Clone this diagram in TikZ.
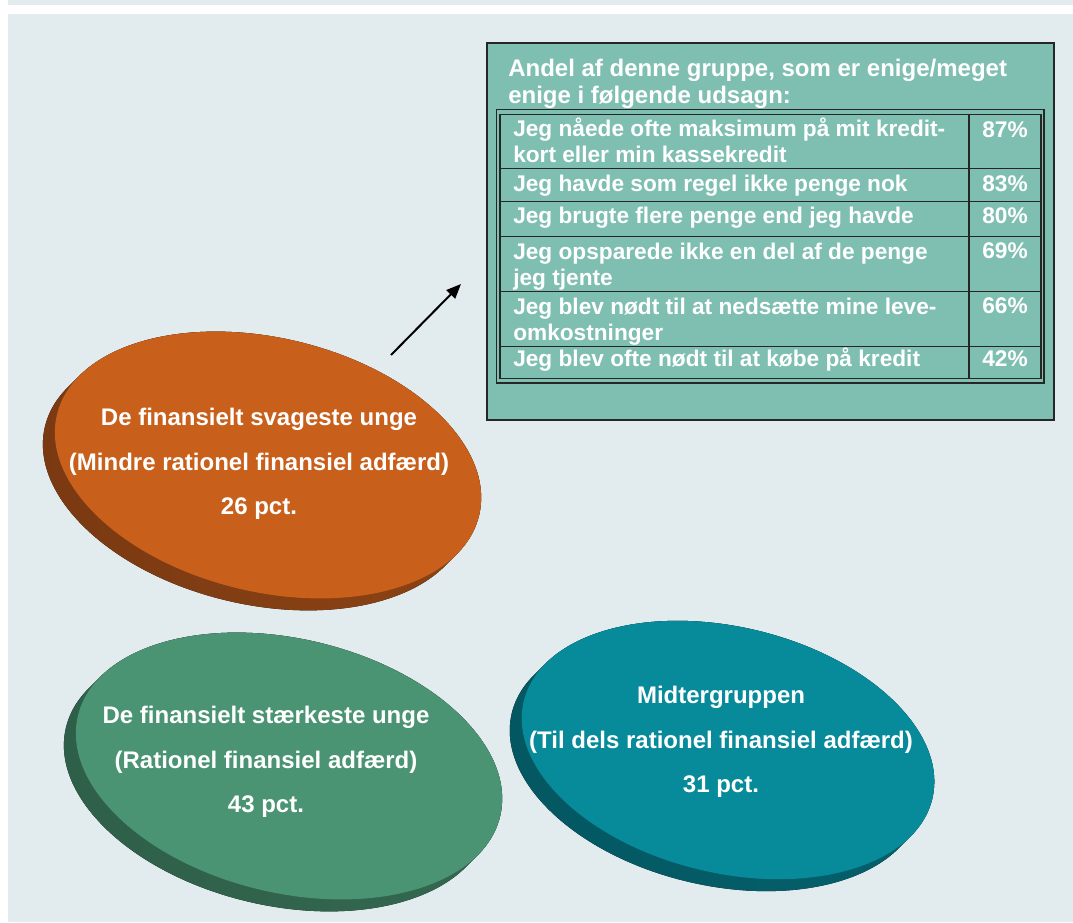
\documentclass[tikz,border=0pt]{standalone}
\usepackage{fontspec}
\setmainfont{Liberation Sans}
\usetikzlibrary{arrows.meta, positioning, calc}
\definecolor{panelbg}{HTML}{E2EBEE}
\definecolor{boxteal}{HTML}{7FBFB2}
\definecolor{boxline}{HTML}{262626}
\definecolor{discorange}{HTML}{C8601C}
\definecolor{discorangedk}{HTML}{7A3912}
\definecolor{discgreen}{HTML}{4A9473}
\definecolor{discgreendk}{HTML}{2E5F49}
\definecolor{discteal}{HTML}{078A9A}
\definecolor{disctealdk}{HTML}{035761}

\begin{document}
\begin{tikzpicture}[
  x=0.75pt, y=-0.75pt,
  >={Triangle[length=11pt, width=9pt]},
  disctext/.style={text=white, inner sep=0pt, align=center,
    font=\fontsize{18}{33.4}\selectfont\bfseries},
  rowtext/.style={text=white, inner sep=0pt, align=left, anchor=base west,
    font=\fontsize{17}{19.5}\selectfont\bfseries},
  pcttext/.style={text=white, inner sep=0pt, anchor=base east,
    font=\fontsize{17}{19.5}\selectfont\bfseries},
  gridline/.style={boxline, line width=1.1pt},
]
\useasboundingbox (0,0) rectangle (1073,922);

% Background
\fill[panelbg] (8,0) rectangle (1073,5);
\fill[panelbg] (8,14) rectangle (1073,922);

% ========================================
% Discs (side swept to the lower left, then the top face)
% ========================================
% Orange disc (weakest)
\begin{scope}[shift={(268,465)}, rotate=-13.4]
  \fill[left color=discorangedk, right color=discorange!70!black]
    \foreach \k in {0,...,12} {(-0.74*\k,1.2*\k) ellipse [x radius=217, y radius=127]};
  \fill[discorange] (0,0) ellipse [x radius=217, y radius=127];
\end{scope}
\node[disctext] (weak) at (259,464)
  {De finansielt svageste unge\\(Mindre rationel finansiel adfærd)\\26 pct.};

% Green disc (strongest)
\begin{scope}[shift={(289,766)}, rotate=-13.4]
  \fill[left color=discgreendk, right color=discgreen!70!black]
    \foreach \k in {0,...,12} {(-0.74*\k,1.2*\k) ellipse [x radius=217, y radius=127]};
  \fill[discgreen] (0,0) ellipse [x radius=217, y radius=127];
\end{scope}
\node[disctext] (strong) at (266,762)
  {De finansielt stærkeste unge\\(Rationel finansiel adfærd)\\43 pct.};

% Teal disc (middle group)
\begin{scope}[shift={(728,750)}, rotate=-13.4]
  \fill[left color=disctealdk, right color=discteal!70!black]
    \foreach \k in {0,...,12} {(-0.74*\k,1.2*\k) ellipse [x radius=210, y radius=123]};
  \fill[discteal] (0,0) ellipse [x radius=210, y radius=123];
\end{scope}
\node[disctext] (middle) at (721,742)
  {Midtergruppen\\(Til dels rationel finansiel adfærd)\\31 pct.};

% ========================================
% Statement table
% ========================================
\node[draw=boxline, line width=1.5pt, fill=boxteal, inner sep=0pt,
  minimum width=567*0.75pt, minimum height=377*0.75pt] (tbl) at (770.5,231.5) {};

% (multi-line nodes sit on the baseline of their last line)
\node[rowtext, font=\fontsize{18}{20.25}\selectfont\bfseries] (heading) at (508,103.3)
  {Andel af denne gruppe, som er enige/meget\\enige i følgende udsagn:};

% Double frame and grid
\draw[gridline] (496.7,109.5) rectangle (1044,383);
\draw[gridline] (500,114.5) rectangle (1041,378.5);
\draw[gridline] (969,114.5) -- (969,378.5);
\foreach \y in {168.5,201.7,236.7,291.7,346.7}
  \draw[gridline] (500,\y) -- (1041,\y);

% Rows
\node[rowtext] (row1) at (513,162.7) {Jeg nåede ofte maksimum på mit kredit-\\kort eller min kassekredit};
\node[rowtext] (row2) at (513,191) {Jeg havde som regel ikke penge nok};
\node[rowtext] (row3) at (513,223.3) {Jeg brugte flere penge end jeg havde};
\node[rowtext] (row4) at (513,285) {Jeg opsparede ikke en del af de penge\\jeg tjente};
\node[rowtext] (row5) at (513,340) {Jeg blev nødt til at nedsætte mine leve-\\omkostninger};
\node[rowtext] (row6) at (513,366.7) {Jeg blev ofte nødt til at købe på kredit};

\node[pcttext] (pct1) at (1028,137.3) {87\%};
\node[pcttext] (pct2) at (1028,191) {83\%};
\node[pcttext] (pct3) at (1028,223.3) {80\%};
\node[pcttext] (pct4) at (1028,258.3) {69\%};
\node[pcttext] (pct5) at (1028,313.3) {66\%};
\node[pcttext] (pct6) at (1028,366.7) {42\%};

% Pointer from the weakest group to the table
\coordinate (pointfrom) at (391,355);
\coordinate (pointto) at (461,284);
\draw[->, line width=1.5pt, black] (pointfrom) -- (pointto);

\end{tikzpicture}
\end{document}
